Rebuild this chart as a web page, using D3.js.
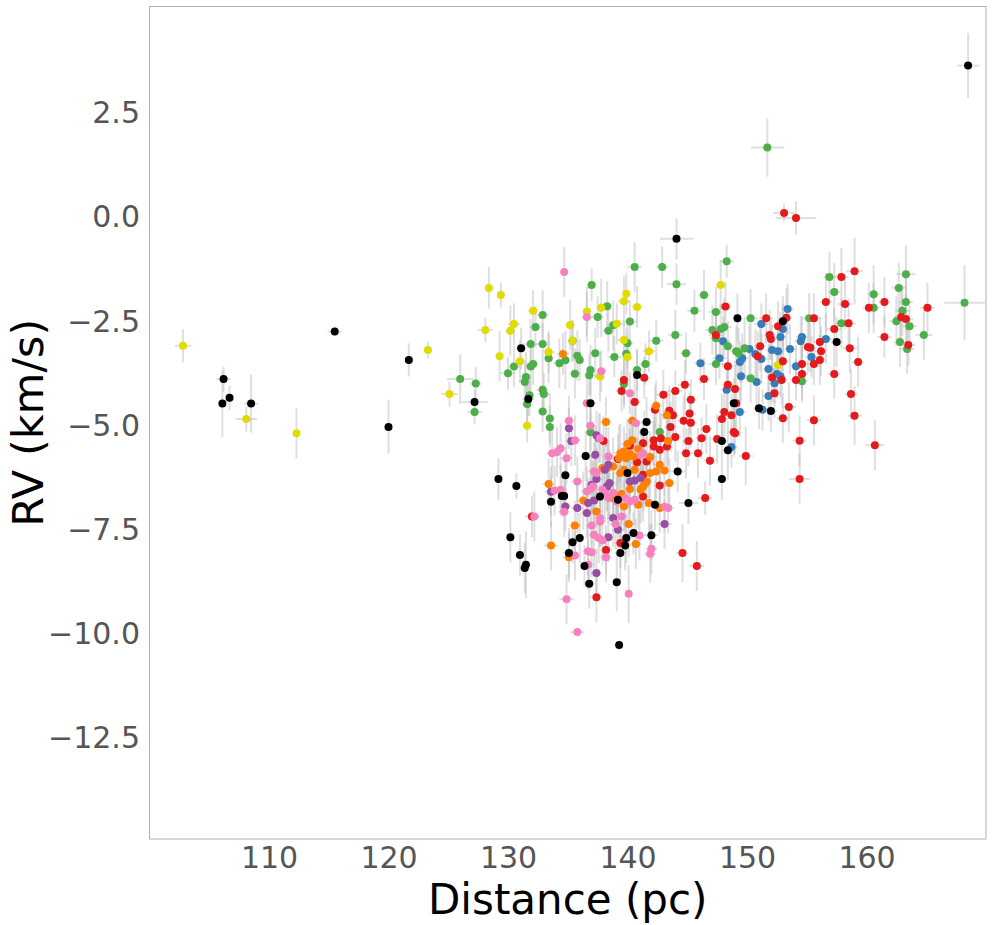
<!DOCTYPE html>
<html>
<head>
<meta charset="utf-8">
<script src="https://cdn.jsdelivr.net/npm/d3@7"></script>
<style>
  body { margin: 0; background: #fff; }
  svg { display: block; font-family: "DejaVu Sans", sans-serif; }
</style>
</head>
<body>
<svg id="chart" width="993" height="925"></svg>
<script>
// each star: [distance (pc), RV (km/s), distance error, RV error]
const blueStars = [
  [153.4,-2.27,0.5,0.6],[151.2,-2.63,0.6,0.5],[153.0,-2.75,0.5,0.6],[156.6,-2.99,0.5,0.6],
  [154.6,-2.94,0.5,0.5],[154.5,-3.04,0.5,0.6],[155.4,-3.42,0.5,0.5],[153.6,-3.23,0.6,0.6],
  [150.2,-3.23,0.5,0.6],[152.1,-3.25,0.5,0.6],[152.6,-3.28,0.5,0.5],[152.8,-2.94,0.5,0.6],
  [148.0,-3.04,0.6,0.6],[149.6,-3.45,0.5,0.6],[149.4,-3.54,0.5,0.5],[150.7,-3.35,0.5,0.6],
  [151.2,-3.47,0.5,0.6],[147.7,-3.45,0.6,0.5],[146.1,-3.57,0.5,0.5],[149.5,-3.88,0.5,0.6],
  [150.8,-4.02,0.5,0.6],[148.3,-4.21,0.5,0.5],[151.8,-4.36,0.5,0.6],[152.3,-4.05,0.5,0.5],
  [152.5,-3.83,0.5,0.6],[152.8,-3.89,0.5,0.5],[151.8,-3.71,0.5,0.6],[154.1,-3.64,0.5,0.5],
  [151.3,-4.69,0.6,0.5],[149.4,-4.74,0.5,0.6],[148.7,-5.58,0.5,0.5]
];

const greenStars = [
  [126.0,-3.95,1.1,0.6],[140.6,-1.26,0.6,0.6],[142.9,-1.26,0.5,0.5],[144.1,-1.67,0.8,0.5],
  [137.0,-1.69,0.4,0.4],[138.3,-2.20,0.4,0.6],[137.5,-2.46,0.5,0.5],[140.2,-2.57,0.6,0.5],
  [138.8,-2.66,0.5,0.6],[138.4,-2.79,0.5,0.5],[132.9,-2.41,0.5,0.6],[132.3,-2.70,0.5,0.5],
  [135.4,-3.03,0.4,0.5],[131.9,-3.11,0.6,0.6],[132.9,-3.11,0.5,0.5],[133.4,-3.45,0.4,0.6],
  [130.5,-3.65,0.5,0.5],[130.0,-3.81,0.6,0.4],[131.9,-3.65,0.5,0.6],[132.1,-3.59,0.4,0.5],
  [131.5,-3.90,0.4,0.6],[131.4,-4.02,0.5,0.5],[134.3,-3.57,0.5,0.6],[134.8,-3.50,0.4,0.7],
  [135.8,-3.39,0.5,0.6],[136.0,-3.49,0.4,0.5],[137.3,-3.33,0.5,0.6],[135.6,-3.82,0.5,0.6],
  [136.9,-3.73,0.4,0.6],[136.8,-3.86,0.4,0.5],[138.9,-3.42,0.6,0.5],[140.0,-3.09,0.5,0.6],
  [139.9,-3.34,0.4,0.6],[142.4,-3.03,0.6,0.5],[144.0,-2.89,0.6,0.6],[144.9,-3.33,0.5,0.5],
  [141.5,-3.59,0.5,0.5],[140.8,-3.73,0.4,0.5],[139.7,-4.07,0.4,0.6],[127.3,-4.06,0.5,0.4],
  [127.2,-4.74,0.6,0.3],[132.9,-4.21,0.5,0.6],[133.0,-4.31,0.5,0.5],[131.8,-4.34,0.4,0.5],
  [131.6,-4.55,0.4,0.5],[132.9,-4.73,0.4,0.5],[133.5,-4.90,0.4,0.6],[133.5,-5.10,0.3,0.5],
  [136.9,-5.23,0.4,0.5],[142.7,-5.22,0.4,0.5],[148.3,-1.12,0.6,0.4],[146.4,-1.93,0.5,0.6],
  [145.6,-2.31,0.6,0.5],[147.4,-2.34,0.6,0.6],[150.3,-2.49,0.6,0.7],[155.2,-2.49,0.6,0.6],
  [156.9,-1.50,0.5,0.6],[157.3,-1.86,0.5,0.7],[157.9,-2.61,0.6,0.6],[163.3,-1.43,0.8,0.7],
  [162.7,-1.76,0.6,0.6],[160.6,-1.91,0.5,0.7],[160.6,-2.24,0.5,0.6],[163.3,-2.10,0.6,0.7],
  [163.0,-2.31,0.6,0.6],[168.2,-2.12,1.7,0.9],[162.5,-2.56,0.6,0.6],[163.6,-2.68,0.6,0.5],
  [164.8,-2.89,0.7,0.6],[162.8,-3.06,0.5,0.6],[163.4,-3.23,0.6,0.6],[148.4,-3.16,0.5,0.6],
  [147.1,-2.77,0.6,0.6],[147.8,-2.75,0.5,0.6],[148.1,-2.70,0.6,0.7],[147.4,-2.97,0.5,0.6],
  [149.8,-3.21,0.5,0.7],[149.1,-3.28,0.5,0.6],[149.3,-3.33,0.5,0.6],[147.4,-3.59,0.6,0.5],
  [150.3,-3.93,0.5,0.6],[154.6,-4.00,0.5,0.5],[151.7,1.61,1.4,0.7]
];

const yellowStars = [
  [102.8,-3.15,0.7,0.4],[108.1,-4.91,0.9,0.3],[112.3,-5.25,0.2,0.6],[123.3,-3.25,0.2,0.2],
  [125.1,-4.31,0.7,0.3],[128.4,-1.76,0.3,0.5],[129.4,-1.93,0.3,0.3],[139.9,-1.90,0.3,0.5],
  [139.7,-2.08,0.5,0.6],[140.8,-2.22,0.4,0.5],[137.8,-2.24,0.4,0.7],[136.6,-2.33,0.4,0.6],
  [132.1,-2.31,0.4,0.5],[130.5,-2.63,0.5,0.5],[130.2,-2.79,0.4,0.6],[128.1,-2.77,0.6,0.3],
  [135.2,-2.65,0.4,0.6],[135.4,-3.03,0.3,0.5],[133.4,-3.30,0.5,0.5],[129.3,-3.40,0.3,0.6],
  [131.0,-3.52,0.4,0.5],[137.7,-3.89,0.4,0.6],[139.7,-3.01,0.5,0.4],[140.0,-3.42,0.4,0.5],
  [141.8,-3.28,0.5,0.5],[139.1,-2.62,0.5,0.5],[131.6,-5.07,0.3,0.4],[147.8,-1.69,0.4,0.6],
  [152.6,-3.61,0.4,0.4]
];

const redStars = [
  [153.1,0.04,0.9,0.2],[154.1,-0.08,1.7,0.4],[141.4,-3.92,0.5,0.5],[139.7,-3.97,0.5,0.6],
  [139.5,-4.24,0.5,0.5],[143.0,-4.33,0.6,0.6],[144.0,-4.24,0.6,0.5],[144.8,-4.09,0.6,0.6],
  [148.2,-2.21,0.5,0.6],[151.6,-2.49,0.6,0.6],[153.3,-2.48,0.5,0.7],[152.6,-2.68,0.5,0.6],
  [155.6,-2.49,0.6,0.6],[157.9,-1.50,0.6,0.7],[159.0,-1.36,0.7,0.8],[156.6,-2.10,0.5,0.7],
  [158.2,-2.15,0.6,0.6],[158.5,-2.61,0.6,0.6],[157.3,-2.75,0.6,0.5],[161.5,-2.10,0.5,0.6],
  [160.2,-2.24,0.5,0.6],[165.1,-2.24,0.6,0.6],[162.9,-2.46,0.6,0.6],[163.3,-2.51,0.6,0.6],
  [161.5,-2.94,0.6,0.5],[163.5,-3.13,0.6,0.5],[157.3,-3.83,0.5,0.6],[158.6,-3.21,0.6,0.6],
  [159.3,-3.54,0.5,0.6],[158.7,-4.31,0.5,0.6],[155.1,-3.18,0.5,0.6],[155.3,-3.20,0.5,0.6],
  [156.1,-3.06,0.5,0.6],[156.2,-3.28,0.5,0.6],[156.1,-3.49,0.5,0.6],[155.6,-3.59,0.5,0.5],
  [151.1,-3.16,0.5,0.6],[151.9,-2.89,0.5,0.6],[152.0,-2.99,0.5,0.5],[147.4,-2.89,0.6,0.6],
  [150.9,-3.40,0.5,0.6],[148.4,-3.64,0.5,0.6],[146.4,-3.95,0.5,0.5],[148.4,-4.09,0.5,0.6],
  [149.0,-4.19,0.5,0.6],[145.3,-4.45,0.5,0.5],[152.3,-4.29,0.5,0.6],[152.1,-3.91,0.5,0.6],
  [152.9,-3.97,0.5,0.6],[153.0,-3.52,0.5,0.5],[154.6,-3.59,0.5,0.6],[154.6,-3.83,0.5,0.6],
  [154.1,-3.97,0.5,0.5],[153.5,-4.62,0.6,0.6],[159.0,-4.83,0.6,0.7],[153.0,-4.89,0.5,0.6],
  [155.6,-4.94,0.6,0.6],[149.1,-4.53,0.4,0.6],[148.7,-4.82,0.5,0.5],[148.1,-4.74,0.5,0.6],
  [147.9,-4.91,0.5,0.6],[146.6,-5.15,0.5,0.6],[148.9,-5.22,0.5,0.6],[149.0,-5.25,0.5,0.5],
  [147.5,-5.39,0.5,0.6],[149.9,-5.80,0.6,0.7],[154.4,-5.43,0.6,0.6],[154.4,-6.35,0.9,0.6],
  [160.7,-5.54,0.8,0.6],[146.2,-5.37,0.5,0.5],[146.9,-5.91,0.5,0.6],[146.5,-6.81,0.6,0.4],
  [140.6,-4.50,0.5,0.6],[142.3,-4.69,0.5,0.6],[143.5,-4.71,0.5,0.6],[143.8,-4.82,0.5,0.6],
  [145.2,-4.78,0.5,0.5],[143.6,-5.10,0.5,0.6],[144.7,-4.95,0.5,0.6],[144.0,-5.34,0.5,0.6],
  [145.1,-5.44,0.5,0.6],[142.2,-5.42,0.5,0.6],[142.8,-5.37,0.5,0.6],[141.3,-5.49,0.5,0.5],
  [138.0,-5.44,0.5,0.6],[132.0,-7.25,0.6,0.5],[139.2,-5.87,0.5,0.6],[140.2,-5.55,0.5,0.6],
  [140.8,-5.95,0.5,0.6],[141.6,-5.93,0.5,0.6],[142.2,-5.57,0.5,0.6],[142.7,-5.65,0.5,0.6],
  [143.3,-5.57,0.5,0.6],[144.9,-5.73,0.5,0.6],[145.9,-5.73,0.5,0.6],[141.3,-6.25,0.5,0.6],
  [142.7,-6.51,0.5,0.6],[138.3,-6.53,0.5,0.6],[141.3,-6.77,0.5,0.6],[145.3,-5.00,0.5,0.6],
  [139.4,-7.89,0.5,0.6],[138.2,-8.06,0.5,0.6],[137.4,-9.19,0.5,0.6],[144.6,-8.13,0.5,0.7],
  [145.8,-8.44,0.6,0.6]
];

const orangeStars = [
  [134.6,-3.35,0.5,0.5],[142.4,-4.59,0.5,0.6],[143.3,-4.82,0.5,0.6],[138.2,-4.98,0.5,0.6],
  [140.4,-4.95,0.5,0.6],[143.4,-5.44,0.5,0.6],[140.4,-5.42,0.5,0.6],[140.0,-5.51,0.5,0.6],
  [133.4,-6.47,0.5,0.6],[139.4,-5.73,0.5,0.7],[139.7,-5.69,0.5,0.6],[139.3,-5.85,0.5,0.8],
  [139.9,-5.85,0.5,0.6],[140.2,-5.75,0.5,0.6],[140.5,-5.81,0.5,0.7],[140.9,-5.63,0.5,0.6],
  [141.9,-5.82,0.5,0.6],[138.8,-6.05,0.5,0.7],[138.3,-6.09,0.5,0.6],[137.9,-6.09,0.5,0.8],
  [139.7,-6.13,0.5,0.6],[139.4,-6.21,0.5,0.6],[140.6,-6.13,0.5,0.7],[141.5,-6.45,0.5,0.6],
  [141.6,-6.41,0.5,0.6],[141.9,-6.21,0.5,0.6],[142.4,-6.17,0.5,0.7],[142.7,-6.01,0.5,0.6],
  [143.1,-6.15,0.5,0.6],[143.5,-6.45,0.5,0.6],[141.1,-6.61,0.5,0.8],[141.3,-6.53,0.5,0.6],
  [140.2,-6.59,0.5,0.6],[139.5,-6.71,0.5,0.7],[139.1,-6.77,0.5,0.6],[138.8,-6.81,0.5,0.6],
  [136.3,-6.87,0.5,0.7],[139.7,-7.01,0.5,0.6],[140.9,-6.97,0.5,0.6],[141.8,-6.93,0.5,0.7],
  [142.7,-7.05,0.5,0.6],[137.4,-7.13,0.5,0.6],[135.6,-7.47,0.5,0.6],[140.1,-7.43,0.5,0.8],
  [140.7,-7.91,0.5,0.6],[135.1,-8.23,0.5,0.6],[133.6,-7.95,0.6,0.6]
];

const purpleStars = [
  [135.1,-5.13,0.4,0.5],[137.4,-5.30,0.5,0.6],[137.6,-5.37,0.5,0.6],[135.3,-5.44,0.5,0.6],
  [133.6,-6.66,0.5,0.6],[134.8,-7.01,0.5,0.6],[137.3,-5.77,0.5,0.7],[138.4,-6.01,0.5,0.6],
  [138.1,-6.13,0.5,0.6],[140.2,-6.41,0.5,0.7],[140.6,-6.39,0.5,0.6],[141.1,-6.33,0.5,0.6],
  [138.5,-6.45,0.5,0.8],[138.3,-6.53,0.5,0.6],[137.4,-6.35,0.5,0.6],[137.0,-6.49,0.5,0.7],
  [137.2,-6.87,0.5,0.6],[136.7,-6.93,0.5,0.6],[135.8,-7.05,0.5,0.6],[136.6,-7.17,0.5,0.6],
  [138.8,-7.29,0.5,0.7],[143.1,-7.43,0.6,0.6],[139.2,-7.57,0.5,0.6],[138.4,-7.75,0.5,0.6],
  [137.4,-8.61,0.5,0.6]
];

const pinkStars = [
  [134.7,-1.38,0.2,0.6],[136.6,-2.46,0.4,0.6],[137.8,-3.76,0.4,0.5],[140.2,-4.29,0.5,0.5],
  [136.6,-4.53,0.4,0.6],[135.1,-4.95,0.4,0.6],[136.9,-5.07,0.4,0.6],[140.7,-5.01,0.5,0.6],
  [135.6,-5.42,0.5,0.6],[134.4,-5.61,0.5,0.6],[134.1,-5.70,0.5,0.6],[133.7,-5.73,0.5,0.6],
  [134.9,-5.85,0.5,0.6],[133.9,-6.63,0.5,0.6],[134.4,-6.61,0.5,0.6],[134.7,-7.14,0.5,0.6],
  [132.2,-7.25,0.5,0.6],[137.7,-5.37,0.5,0.6],[138.4,-5.81,0.5,0.7],[141.1,-5.77,0.5,0.6],
  [141.3,-5.73,0.5,0.6],[137.4,-6.21,0.5,0.6],[137.2,-6.17,0.5,0.7],[135.8,-6.41,0.5,0.6],
  [136.6,-6.65,0.5,0.6],[136.9,-6.59,0.5,0.8],[137.1,-6.53,0.5,0.6],[137.9,-6.61,0.5,0.6],
  [138.1,-6.69,0.5,0.7],[138.4,-6.81,0.5,0.6],[138.8,-6.69,0.5,0.6],[139.1,-6.89,0.5,0.6],
  [139.8,-6.81,0.5,0.7],[140.2,-6.89,0.5,0.6],[140.6,-6.85,0.5,0.6],[143.4,-7.05,0.5,0.6],
  [143.1,-7.02,0.5,0.6],[137.7,-7.29,0.5,0.7],[139.5,-7.25,0.5,0.6],[137.0,-7.47,0.5,0.6],
  [137.7,-7.37,0.5,0.6],[139.0,-7.43,0.5,0.6],[137.2,-7.69,0.5,0.8],[137.6,-7.77,0.5,0.6],
  [137.9,-7.83,0.5,0.6],[141.0,-7.71,0.5,0.6],[142.0,-8.03,0.5,0.6],[141.9,-8.15,0.5,0.7],
  [136.7,-8.09,0.5,0.6],[137.0,-8.11,0.5,0.6],[138.2,-8.23,0.5,0.6],[135.6,-8.19,0.5,0.6],
  [136.7,-8.41,0.5,0.6],[140.1,-9.11,0.3,0.7],[134.9,-9.24,0.6,0.6],[135.8,-10.03,0.6,0.1]
];

const blackStars = [
  [106.2,-3.95,0.6,0.3],[106.7,-4.40,0.3,0.3],[106.1,-4.54,0.3,0.8],[108.5,-4.54,0.6,0.7],
  [115.5,-2.81,0.6,0.1],[120.0,-5.10,0.2,0.65],[121.7,-3.49,0.2,0.4],[144.1,-0.58,1.4,0.5],
  [131.1,-3.21,0.4,0.5],[127.2,-4.50,1.1,0.3],[140.8,-3.85,0.4,0.6],[131.7,-4.43,0.5,0.4],
  [136.9,-4.53,0.5,0.8],[141.6,-4.98,0.5,0.6],[141.4,-5.22,0.5,0.5],[129.2,-6.35,0.3,0.5],
  [130.7,-6.52,0.3,0.3],[134.8,-6.26,0.4,0.6],[134.5,-6.76,0.3,0.5],[134.7,-6.76,0.3,0.5],
  [133.6,-6.90,0.4,0.6],[136.5,-5.80,0.5,0.6],[140.0,-6.21,0.5,0.7],[144.2,-6.17,0.6,0.5],
  [137.7,-6.77,0.5,0.6],[139.2,-6.85,0.5,0.7],[142.3,-6.97,0.6,0.6],[145.1,-6.93,0.8,0.5],
  [139.9,-7.77,0.5,0.6],[140.5,-7.65,0.5,0.5],[142.0,-7.70,0.6,0.6],[139.8,-7.95,0.5,0.6],
  [139.4,-8.13,0.5,0.7],[135.1,-8.13,0.5,0.6],[135.4,-7.87,0.4,0.5],[136.0,-7.77,0.4,0.6],
  [130.2,-7.75,0.3,0.6],[131.0,-8.18,0.4,0.5],[131.5,-8.41,0.4,0.8],[131.4,-8.49,0.4,0.6],
  [136.4,-8.44,0.4,0.5],[136.8,-8.87,0.4,0.6],[139.1,-8.83,0.3,0.7],[139.3,-10.34,0.3,0.1],
  [149.2,-2.49,0.3,0.6],[153.0,-2.56,0.4,0.6],[157.5,-3.06,0.5,0.6],[152.0,-4.72,0.5,0.5],
  [151.0,-4.65,0.5,0.5],[148.9,-4.53,0.4,0.6],[147.9,-5.44,0.5,0.4],[148.4,-5.66,0.5,0.7],
  [147.9,-6.35,0.4,0.5],[168.5,3.58,0.95,0.78]
];

// drawing order: later groups sit on top
const groups = [
  { stars: blueStars,   color: "#377eb8" },
  { stars: greenStars,  color: "#4daf4a" },
  { stars: yellowStars, color: "#e0dc00" },
  { stars: redStars,    color: "#e41a1c" },
  { stars: orangeStars, color: "#ff7f00" },
  { stars: purpleStars, color: "#984ea3" },
  { stars: pinkStars,   color: "#f781bf" },
  { stars: blackStars,  color: "#000000" }
];

const xTicks = [110, 120, 130, 140, 150, 160];
const yTicks = [2.5, 0, -2.5, -5, -7.5, -10, -12.5];

const width = 993, height = 925;
const margin = { top: 6.5, right: 7, bottom: 86, left: 149.5 };

const x = d3.scaleLinear().domain([100, 170]).range([margin.left, width - margin.right]);
const y = d3.scaleLinear().domain([-15, 5]).range([height - margin.bottom, margin.top]);

const svg = d3.select("#chart");

// flatten, keep colour with each star
const points = groups.flatMap(g => g.stars.map(s => ({ d: s[0], rv: s[1], de: s[2], rve: s[3], color: g.color })));

// error bars first, all of them, so markers stay on top
const bars = svg.append("g").attr("stroke", "#b8b8b8").attr("stroke-opacity", 0.45).attr("stroke-width", 2);
bars.selectAll("line.h")
  .data(points)
  .join("line")
    .attr("class", "h")
    .attr("x1", p => x(p.d - p.de))
    .attr("x2", p => x(p.d + p.de))
    .attr("y1", p => y(p.rv))
    .attr("y2", p => y(p.rv));
bars.selectAll("line.v")
  .data(points)
  .join("line")
    .attr("class", "v")
    .attr("x1", p => x(p.d))
    .attr("x2", p => x(p.d))
    .attr("y1", p => y(p.rv - p.rve))
    .attr("y2", p => y(p.rv + p.rve));

svg.append("g")
  .selectAll("circle")
  .data(points)
  .join("circle")
    .attr("cx", p => x(p.d))
    .attr("cy", p => y(p.rv))
    .attr("r", 4)
    .attr("fill", p => p.color);

// axes: labels only, no tick marks
const xAxis = svg.append("g")
  .attr("transform", `translate(0,${y.range()[0]})`)
  .call(d3.axisBottom(x).tickValues(xTicks).tickSize(0).tickPadding(7.5).tickFormat(d3.format("d")));
const yAxis = svg.append("g")
  .attr("transform", `translate(${x.range()[0]},0)`)
  .call(d3.axisLeft(y).tickValues(yTicks).tickSize(0).tickPadding(9.5).tickFormat(d3.format(".1f")));

[xAxis, yAxis].forEach(a => {
  a.select(".domain").remove();
  a.attr("font-family", null).attr("font-size", null);
  a.selectAll("text").attr("font-size", 30).attr("fill", "#555555");
});
yAxis.selectAll("text").attr("dy", "0.41em");

// plot frame
svg.append("rect")
  .attr("x", x.range()[0])
  .attr("y", y.range()[1])
  .attr("width", x.range()[1] - x.range()[0])
  .attr("height", y.range()[0] - y.range()[1])
  .attr("fill", "none")
  .attr("stroke", "#b0b0b0")
  .attr("stroke-width", 1);

svg.append("text")
  .attr("x", (x.range()[0] + x.range()[1]) / 2)
  .attr("y", 914)
  .attr("text-anchor", "middle")
  .attr("font-size", 42)
  .text("Distance (pc)");

svg.append("text")
  .attr("transform", `translate(43,${(y.range()[0] + y.range()[1]) / 2}) rotate(-90)`)
  .attr("text-anchor", "middle")
  .attr("font-size", 43)
  .text("RV (km/s)");
</script>
</body>
</html>
